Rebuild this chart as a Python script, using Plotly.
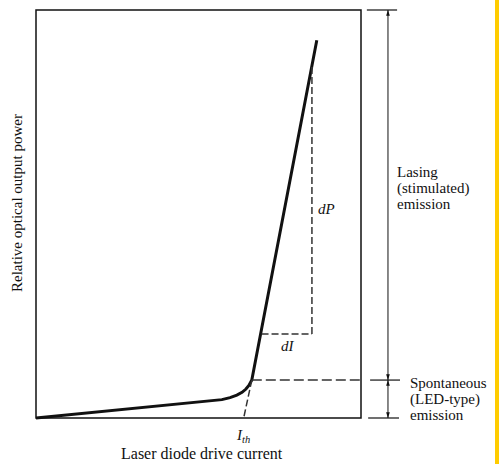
import plotly.graph_objects as go

# ---- data (relative units; box spans 0..100 on both axes) ----
drive_current = [0, 47.4, 57.2, 59.7, 61.8, 63.4, 64.6, 65.5, 66.4, 86.4]
optical_power = [0, 3.85, 4.5, 5.0, 5.6, 6.3, 7.1, 8.0, 9.3, 92.6]

knee_current = 66.4          # where the lasing line meets the LED region
spontaneous_level = 9.3      # power level at threshold
threshold_current = 63.9     # I_th (extrapolated intercept)
dI_range = [69.4, 84.9]      # slope triangle, horizontal leg
dP_range = [20.6, 86.0]      # slope triangle, vertical leg

x_title = "Laser diode drive current"
y_title = "Relative optical output power"
lasing_lines = ["Lasing", "(stimulated)", "emission"]
spont_lines = ["Spontaneous", "(LED-type)", "emission"]

FONT = "Liberation Serif"
INK = "#111111"
DASH_C = "#333333"

fig = go.Figure()

# main L-I curve
fig.add_trace(go.Scatter(x=drive_current, y=optical_power, mode="lines",
                         line=dict(color=INK, width=3), hoverinfo="skip",
                         showlegend=False))

# dashed helper lines
def dashed(xs, ys, dash="8px,4px"):
    fig.add_trace(go.Scatter(x=xs, y=ys, mode="lines",
                             line=dict(color=DASH_C, width=1.5, dash=dash),
                             hoverinfo="skip", showlegend=False))

dashed([knee_current, threshold_current], [spontaneous_level, 0], "7px,3px")
dashed([knee_current, 100], [spontaneous_level, spontaneous_level], "10px,4px")
dashed([dI_range[0], dI_range[1]], [dP_range[0], dP_range[0]], "7px,3px")
dashed([dI_range[1], dI_range[1]], [dP_range[0], dP_range[1]], "7px,3px")

# dimension arrows on the right
arrow_x = 108.3
fig.add_trace(go.Scatter(x=[arrow_x, arrow_x], y=[0, 100], mode="lines",
                         line=dict(color=INK, width=1), hoverinfo="skip",
                         showlegend=False, cliponaxis=False))
fig.add_trace(go.Scatter(
    x=[arrow_x] * 4,
    y=[100, spontaneous_level, spontaneous_level, 0],
    mode="markers",
    marker=dict(symbol="arrow", size=6, color=INK,
                angle=[0, 180, 0, 180], line=dict(width=0)),
    hoverinfo="skip", showlegend=False, cliponaxis=False))

shapes = []
# frame
shapes.append(dict(type="rect", xref="x", yref="y", x0=0, x1=100, y0=0, y1=100,
                   line=dict(color=INK, width=1.5)))
# right-hand level ticks
for y, (a, b) in [(100, (101.8, 111.1)), (spontaneous_level, (102.8, 112.0)), (0, (102.2, 111.7))]:
    shapes.append(dict(type="line", xref="x", yref="y", x0=a, x1=b, y0=y, y1=y,
                       line=dict(color=INK, width=1.2)))
# yellow edge strip
shapes.append(dict(type="rect", xref="paper", yref="paper", x0=495/499, x1=1, y0=0, y1=1,
                   fillcolor="#FFCC00", line=dict(width=0), layer="below"))

annotations = []

def label(text, x, y, xanchor="center", size=15, angle=0):
    annotations.append(dict(x=x, y=y, xref="x", yref="y", text=text, showarrow=False,
                            xanchor=xanchor, yanchor="middle", textangle=angle,
                            font=dict(family=FONT, size=size, color=INK)))

for i, t in enumerate(lasing_lines):
    label(t, 110.5, 60.3 - i * 3.95, xanchor="left")
for i, t in enumerate(spont_lines):
    label(t, 114.5, 8.6 - i * 3.95, xanchor="left")

label("<i>dP</i>", 89.3, 51.2)
label("<i>dI</i>", 77.5, 17.6)
label("<i>I</i><sub><i>th</i></sub>", 63.7, -4.3)
label(x_title, 51.1, -8.6, size=16)
label(y_title, -5.85, 52.7, angle=-90)

fig.update_layout(
    width=499, height=464, autosize=False,
    margin=dict(l=0, r=0, t=0, b=0),
    paper_bgcolor="white", plot_bgcolor="white",
    xaxis=dict(range=[-11.077, 142.4615], visible=False, fixedrange=True),
    yaxis=dict(range=[-11.2745, 102.451], visible=False, fixedrange=True),
    shapes=shapes, annotations=annotations, showlegend=False,
)

fig.write_html("out.html", config={"displayModeBar": False},
               post_script="document.body.style.margin='0px';document.body.style.overflow='hidden';")
